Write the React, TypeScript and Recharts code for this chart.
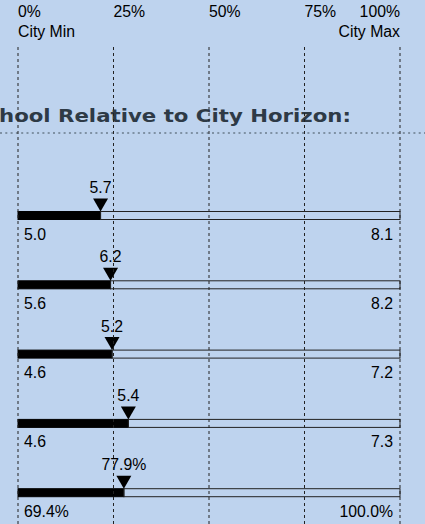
import React from "react";
import { BarChart, Bar, XAxis, YAxis, ReferenceLine } from "recharts";

const categories = ["Measure A", "Measure B", "Measure C", "Measure D", "Measure E"];
const cityMin = [5.0, 5.6, 4.6, 4.6, 69.4];
const cityMax = [8.1, 8.2, 7.2, 7.3, 100.0];
const schoolValue = [5.67, 6.23, 5.24, 5.38, 77.88];
const units = ["", "", "", "", "%"];
const tickValues = [0, 25, 50, 75, 100];
const tickLabels = ["0%", "25%", "50%", "75%", "100%"];
const tickSubLabels = ["City Min", "", "", "", "City Max"];
const titleText = "hool Relative to City Horizon:";

const data = categories.map((name, i) => {
  const pct = ((schoolValue[i] - cityMin[i]) / (cityMax[i] - cityMin[i])) * 100;
  return {
    name,
    min: cityMin[i],
    max: cityMax[i],
    value: schoolValue[i],
    unit: units[i],
    pct,
    rest: 100 - pct,
  };
});

const FONT = "'Liberation Sans', Arial, sans-serif";
const FS = 15.8;
const BG = "#bed3ee";
const INK = "#000";

const fmt = (v: number, u: string) => `${v.toFixed(1)}${u}`;

const FillShape = (props: any) => {
  const { x, y, width, height, payload } = props;
  const endX = x + width;
  return (
    <g>
      <rect x={x} y={y} width={width} height={height} fill="#000" stroke="#000" strokeWidth={1} />
      <path d={`M${endX - 7.5},${y - 13} L${endX + 7.5},${y - 13} L${endX},${y} Z`} fill="#000" />
      <text x={endX} y={y - 18.5} textAnchor="middle" fontSize={FS} fontFamily={FONT} fill={INK}>
        {fmt(payload.value, payload.unit)}
      </text>
      <text x={x + 6} y={y + height + 20} textAnchor="start" fontSize={FS} fontFamily={FONT} fill={INK}>
        {fmt(payload.min, payload.unit)}
      </text>
    </g>
  );
};

const RestShape = (props: any) => {
  const { x, y, width, height, payload } = props;
  return (
    <g>
      <rect x={x} y={y} width={width} height={height} fill="none" stroke="#222" strokeWidth={1} />
      <text x={x + width - 7} y={y + height + 20} textAnchor="end" fontSize={FS} fontFamily={FONT} fill={INK}>
        {fmt(payload.max, payload.unit)}
      </text>
    </g>
  );
};

const TopTick = (props: any) => {
  const { x, payload } = props;
  const i = tickValues.indexOf(payload.value);
  const last = i === tickValues.length - 1;
  const anchor = last ? "end" : "start";
  return (
    <g>
      <text x={x} y={17} textAnchor={anchor} fontSize={FS} fontFamily={FONT} fill={INK}>
        {tickLabels[i]}
      </text>
      {tickSubLabels[i] ? (
        <text x={x} y={37} textAnchor={anchor} fontSize={FS} fontFamily={FONT} fill={INK}>
          {tickSubLabels[i]}
        </text>
      ) : null}
    </g>
  );
};

export default function App() {
  return (
    <div
      style={{
        position: "absolute",
        left: 0,
        top: 0,
        width: 425,
        height: 524,
        overflow: "hidden",
        background: BG,
      }}
    >
      <svg width={425} height={524} style={{ position: "absolute", left: 0, top: 0 }}>
        <text
          x={-1}
          y={122}
          fontSize={18.5}
          fontWeight={700}
          fontFamily="'DejaVu Sans', sans-serif"
          fill="#2e3a46"
          textLength={352}
          lengthAdjust="spacingAndGlyphs"
        >
          {titleText}
        </text>
        <line x1={0} x2={425} y1={133} y2={133} stroke="#7f91a4" strokeWidth={2} strokeDasharray="2 3.3" />
      </svg>
      <div style={{ position: "absolute", left: 0, top: 0 }}>
        <BarChart
          width={425}
          height={527}
          data={data}
          layout="vertical"
          margin={{ top: 0, right: 25, bottom: 0, left: 18 }}
          barSize={8}
        >
          <XAxis
            type="number"
            orientation="top"
            domain={[0, 100]}
            ticks={tickValues}
            height={47}
            axisLine={false}
            tickLine={false}
            tick={<TopTick />}
            interval={0}
          />
          <YAxis type="category" dataKey="name" hide padding={{ top: 133.5, bottom: 0 }} />
          {tickValues.map((t) => (
            <ReferenceLine key={t} x={t} stroke="#222" strokeDasharray="3 3" strokeWidth={1} />
          ))}
          <Bar dataKey="pct" stackId="a" isAnimationActive={false} shape={<FillShape />} />
          <Bar dataKey="rest" stackId="a" isAnimationActive={false} shape={<RestShape />} />
        </BarChart>
      </div>
    </div>
  );
}
